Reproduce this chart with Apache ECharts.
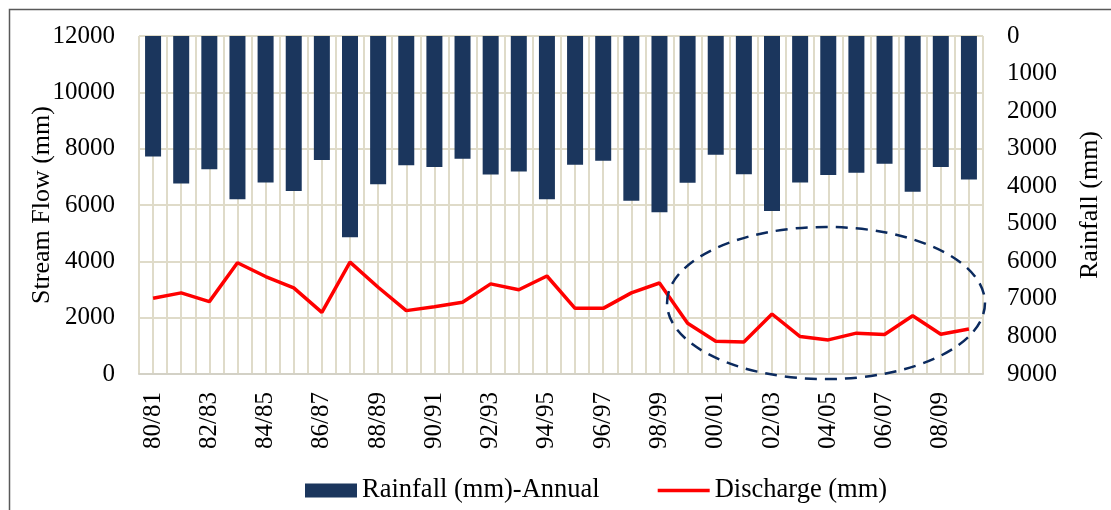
<!DOCTYPE html>
<html>
<head>
<meta charset="utf-8">
<script src="https://cdn.jsdelivr.net/npm/echarts@6/dist/echarts.min.js"></script>
<style>
html,body{margin:0;padding:0;background:#fff;}
#chart{width:1111px;height:510px;}
</style>
</head>
<body>
<div id="chart"></div>
<script>
var categories = ['80/81','81/82','82/83','83/84','84/85','85/86','86/87','87/88','88/89','89/90',
  '90/91','91/92','92/93','93/94','94/95','95/96','96/97','97/98','98/99','99/00',
  '00/01','01/02','02/03','03/04','04/05','05/06','06/07','07/08','08/09','09/10'];
var rainfall = [3210, 3930, 3550, 4350, 3900, 4130, 3300, 5360, 3950, 3440,
  3490, 3270, 3690, 3610, 4350, 3430, 3320, 4390, 4690, 3910,
  3160, 3680, 4660, 3900, 3700, 3640, 3400, 4150, 3490, 3820];
var discharge = [2690, 2880, 2570, 3950, 3460, 3060, 2190, 3970, 3080, 2250,
  2390, 2550, 3200, 2990, 3480, 2330, 2330, 2880, 3230, 1800,
  1160, 1140, 2130, 1330, 1210, 1450, 1400, 2070, 1410, 1600];
var seriesNames = ['Rainfall (mm)-Annual', 'Discharge (mm)'];
var leftAxisName = 'Stream Flow (mm)';
var rightAxisName = 'Rainfall (mm)';
// highlighted period (ellipse), in category units and stream-flow units
var highlight = {xCenter: 24.42, xRadius: 5.65, yCenter: 2520, yRadius: 2700};

var FONT = 'Liberation Serif';
var grid = '#dfdbc9';
function plain(v) { return String(v); }
var chart = echarts.init(document.getElementById('chart'), null, {renderer: 'canvas'});
var option = {
  animation: false,
  backgroundColor: '#ffffff',
  textStyle: {fontFamily: FONT, color: '#000'},
  grid: {left: 139, right: 128, top: 36, bottom: 136, containLabel: false, outerBoundsMode: 'none'},
  legend: {
    left: 305, top: 477, padding: 0,
    itemWidth: 52, itemHeight: 14, itemGap: 58,
    textStyle: {fontFamily: FONT, fontSize: 26.5, color: '#000'},
    data: [
      {name: seriesNames[0], icon: 'rect'},
      {name: seriesNames[1], icon: 'path://M0,0 L52,0 L52,3.5 L0,3.5 Z', itemStyle: {color: '#ff0000'}}
    ]
  },
  xAxis: [
    {
      type: 'category', data: categories, boundaryGap: true,
      axisLine: {show: true, lineStyle: {color: '#d3d1c6', width: 2}},
      axisTick: {show: false},
      splitLine: {show: false},
      axisLabel: {rotate: 90, interval: 1, margin: 18, fontFamily: FONT, fontSize: 25, color: '#000'}
    },
    {
      type: 'value', min: 0, max: 30, interval: 0.5, show: true, position: 'top',
      axisLine: {show: false}, axisTick: {show: false}, axisLabel: {show: false},
      splitLine: {show: true, lineStyle: {color: grid, width: 2}}
    }
  ],
  yAxis: [
    {
      type: 'value', min: 0, max: 12000, interval: 2000,
      name: leftAxisName, nameLocation: 'middle', nameRotate: 90, nameGap: 84, nameMoveOverlap: false,
      nameTextStyle: {fontFamily: FONT, fontSize: 26, color: '#000'},
      axisLine: {show: false}, axisTick: {show: false},
      axisLabel: {margin: 24, fontFamily: FONT, fontSize: 25, color: '#000', formatter: plain},
      splitLine: {show: true, lineStyle: {color: grid, width: 2}}
    },
    {
      type: 'value', min: 0, max: 9000, interval: 1000, inverse: true, position: 'right',
      name: rightAxisName, nameLocation: 'middle', nameRotate: 90, nameGap: 94, nameMoveOverlap: false,
      nameTextStyle: {fontFamily: FONT, fontSize: 26, color: '#000'},
      axisLine: {show: false}, axisTick: {show: false},
      axisLabel: {margin: 24, fontFamily: FONT, fontSize: 25, color: '#000', formatter: plain},
      splitLine: {show: false}
    }
  ],
  series: [
    {
      name: seriesNames[0], type: 'bar', xAxisIndex: 0, yAxisIndex: 1,
      data: rainfall, barWidth: 16,
      itemStyle: {color: '#1b365d'}, z: 2
    },
    {
      name: seriesNames[1], type: 'line', xAxisIndex: 0, yAxisIndex: 0,
      data: discharge, symbol: 'none', showSymbol: false,
      lineStyle: {color: '#ff0000', width: 3.5},
      itemStyle: {color: '#ff0000'}, z: 3
    }
  ]
};
chart.setOption(option);

var c = chart.convertToPixel({xAxisIndex: 1, yAxisIndex: 0}, [highlight.xCenter, highlight.yCenter]);
var e = chart.convertToPixel({xAxisIndex: 1, yAxisIndex: 0}, [highlight.xCenter + highlight.xRadius, highlight.yCenter + highlight.yRadius]);
chart.setOption({
  graphic: [
    {
      type: 'rect', left: 7, top: 7, silent: true, z: 10,
      shape: {x: 0, y: 0, width: 1200, height: 600},
      style: {fill: 'none', stroke: '#595959', lineWidth: 1.5}
    },
    {
      type: 'ellipse', silent: true, z: 100,
      shape: {cx: c[0], cy: c[1], rx: Math.abs(e[0] - c[0]), ry: Math.abs(c[1] - e[1])},
      style: {fill: 'none', stroke: '#0b2a5e', lineWidth: 2.5, lineDash: [12, 8]}
    }
  ]
});
</script>
</body>
</html>
